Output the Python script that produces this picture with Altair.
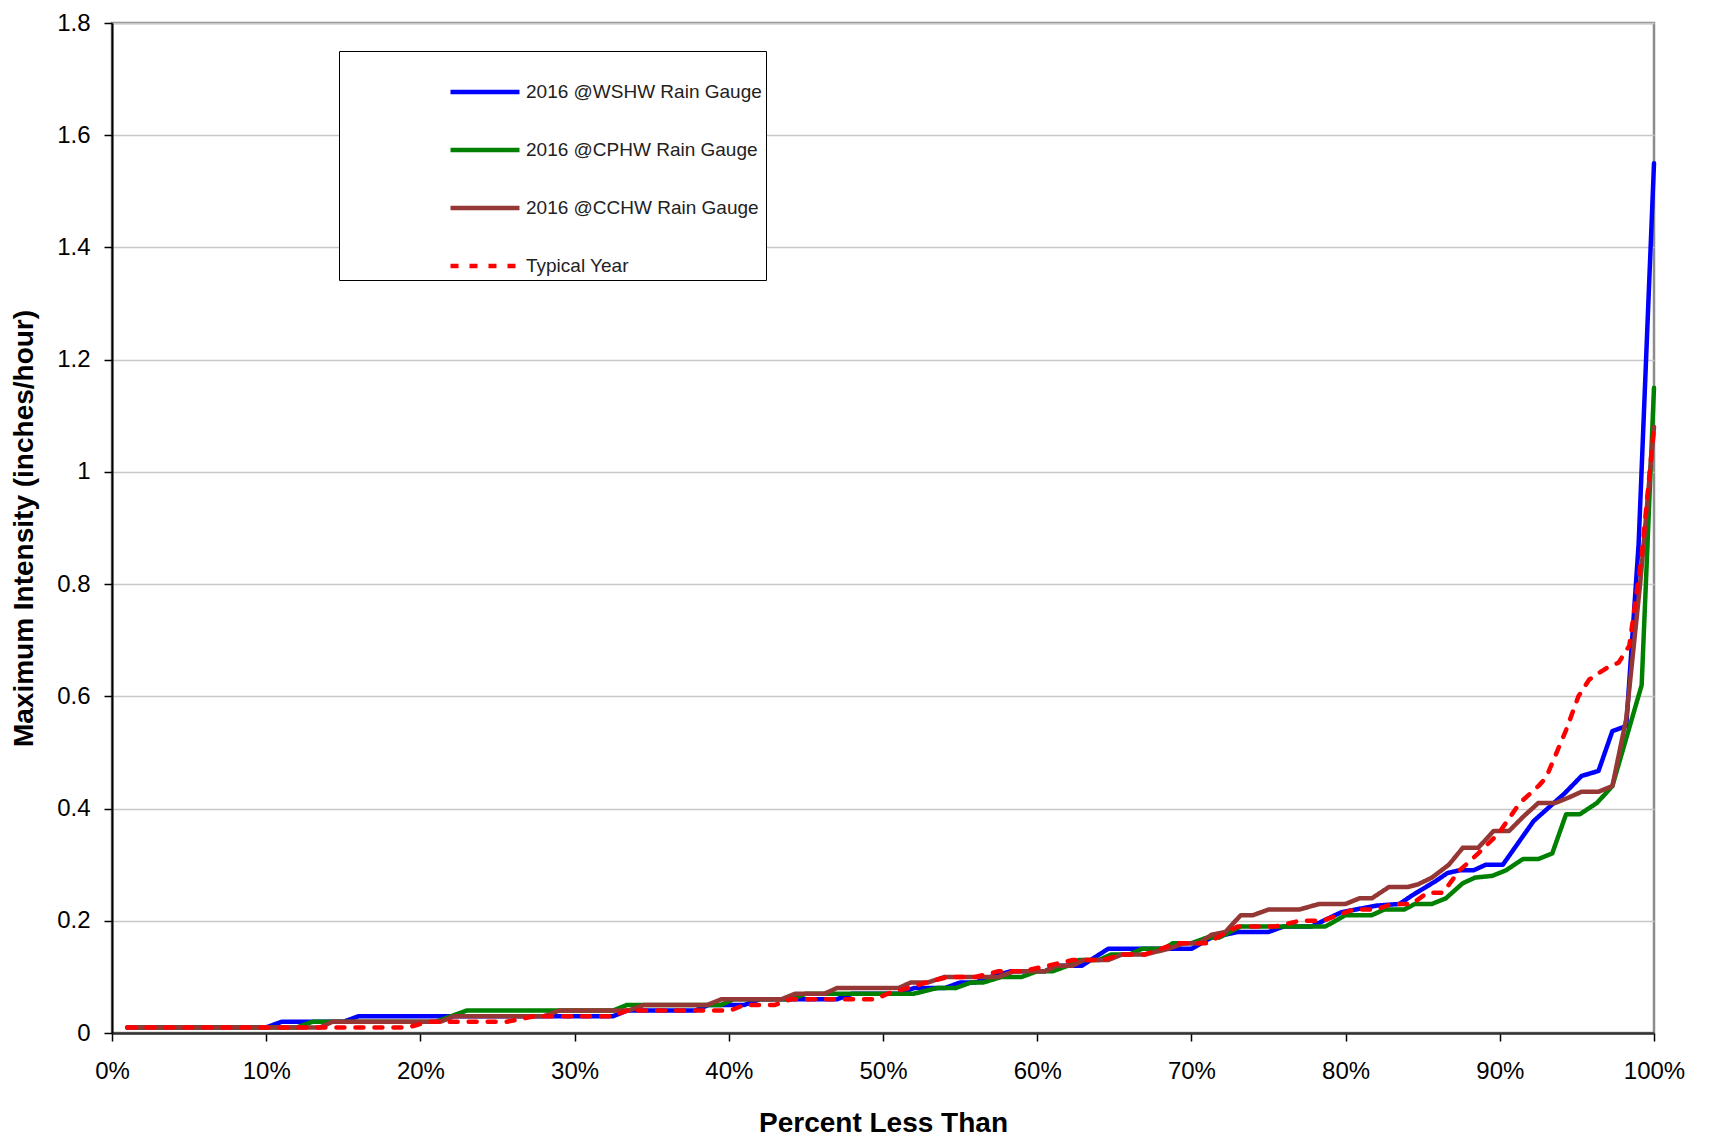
import altair as alt
import pandas as pd

series_names = ["2016 @WSHW Rain Gauge", "2016 @CPHW Rain Gauge",
                "2016 @CCHW Rain Gauge", "Typical Year"]
series_colors = ["#0000FF", "#008000", "#953735", "#FF0000"]
series_dash = [[1, 0], [1, 0], [1, 0], [8, 11]]

x_ticks = [0, 10, 20, 30, 40, 50, 60, 70, 80, 90, 100]
y_ticks = [0, 0.2, 0.4, 0.6, 0.8, 1.0, 1.2, 1.4, 1.6, 1.8]

wshw_pct = [1, 10, 11, 15, 16, 32.5, 33.4, 37.8, 38.7, 41, 42, 47, 48, 51, 52,
            54, 55, 56, 57, 58.3, 60.5, 61.2, 62.9, 64.6, 70, 71.3, 73, 75, 76, 77.8,
            79.7, 82, 83.5, 84.3, 85.8, 86.6, 87.4, 88.3, 89.1, 90.2, 92.2, 93.1, 94.2,
            95.3, 96.4, 97.3, 98.2, 99, 100]
wshw_val = [0.01, 0.01, 0.02, 0.02, 0.03, 0.03, 0.04, 0.04, 0.05, 0.05, 0.06, 0.06,
            0.07, 0.07, 0.08, 0.08, 0.09, 0.09, 0.10, 0.11, 0.11, 0.12, 0.12, 0.15,
            0.15, 0.17, 0.18, 0.18, 0.19, 0.19, 0.215, 0.227, 0.23, 0.245, 0.27, 0.285,
            0.29, 0.29, 0.30, 0.30, 0.378, 0.40, 0.427, 0.458, 0.467, 0.538, 0.547,
            0.87, 1.55]

cphw_pct = [1, 12, 13, 21, 22, 23, 32.5, 33.4, 39.5, 40.3, 44, 45, 52, 53.5, 54.7,
            55.7, 56.5, 57.7, 59, 60, 61, 62, 62.7, 64, 64.8, 66, 66.8, 68.2, 68.8, 70,
            71, 71.8, 73.2, 78.7, 80, 81.7, 82.5, 83.8, 84.5, 85.6, 86.5, 87.6, 88.4,
            89.5, 90.4, 91.5, 92.5, 93.4, 94.3, 95.2, 96.3, 97.3, 99.2, 100]
cphw_val = [0.01, 0.01, 0.02, 0.02, 0.03, 0.04, 0.04, 0.05, 0.05, 0.06, 0.06, 0.07,
            0.07, 0.08, 0.08, 0.09, 0.09, 0.10, 0.10, 0.11, 0.11, 0.12, 0.13, 0.13,
            0.14, 0.14, 0.15, 0.15, 0.16, 0.16, 0.17, 0.17, 0.19, 0.19, 0.21, 0.21,
            0.22, 0.22, 0.23, 0.23, 0.24, 0.267, 0.277, 0.28, 0.29, 0.31, 0.31, 0.32,
            0.39, 0.39, 0.41, 0.44, 0.62, 1.15]

cchw_pct = [1, 13.5, 14.3, 21.3, 22.2, 28, 29, 33.5, 34.5, 38.6, 39.5, 43.4, 44.3,
            46.2, 47, 51, 51.8, 52.9, 54, 57.5, 58.5, 60.5, 61.3, 62.3, 63, 64.6, 65.5,
            67, 68.5, 69.5, 70.5, 71.3, 72.2, 73.2, 74, 75, 77, 78.3, 80, 80.9, 81.7,
            82.8, 84, 84.7, 85.6, 86.7, 87.6, 88.6, 89.6, 90.6, 91.5, 92.5, 93.6, 94.5,
            95.3, 96.4, 97.3, 98.2, 99.1, 100]
cchw_val = [0.01, 0.01, 0.02, 0.02, 0.03, 0.03, 0.04, 0.04, 0.05, 0.05, 0.06, 0.06,
            0.07, 0.07, 0.08, 0.08, 0.09, 0.09, 0.10, 0.10, 0.11, 0.11, 0.12, 0.12,
            0.13, 0.13, 0.14, 0.14, 0.15, 0.16, 0.16, 0.175, 0.18, 0.21, 0.21, 0.22,
            0.22, 0.23, 0.23, 0.24, 0.24, 0.26, 0.26, 0.265, 0.277, 0.30, 0.33, 0.33,
            0.36, 0.36, 0.385, 0.41, 0.41, 0.42, 0.43, 0.43, 0.44, 0.56, 0.80, 1.08]

typical_pct = [1, 19.2, 20.5, 25.6, 27.4, 32.4, 33.4, 40.1, 41, 43, 44, 49.5, 50.3,
               51.6, 52.8, 54.2, 56, 57.5, 59, 60.7, 62.3, 64.2, 65.5, 67, 68.5, 69.2,
               71, 73, 75.5, 77, 78.5, 80.5, 82, 83, 84.3, 85.3, 86.3, 87.4, 88.6, 89.9,
               91.3, 92.5, 93, 94.3, 95.1, 95.8, 96.9, 97.7, 98.4, 99.2, 100]
typical_val = [0.01, 0.01, 0.02, 0.02, 0.03, 0.03, 0.04, 0.04, 0.05, 0.05, 0.06, 0.06,
               0.07, 0.08, 0.09, 0.10, 0.10, 0.11, 0.11, 0.12, 0.13, 0.13, 0.14, 0.14,
               0.155, 0.16, 0.16, 0.19, 0.19, 0.20, 0.20, 0.22, 0.22, 0.23, 0.23, 0.25,
               0.25, 0.29, 0.32, 0.355, 0.41, 0.44, 0.455, 0.54, 0.60, 0.63, 0.65, 0.66,
               0.69, 0.85, 1.08]

rows = []
for name, pcts, vals in zip(series_names,
                            [wshw_pct, cphw_pct, cchw_pct, typical_pct],
                            [wshw_val, cphw_val, cchw_val, typical_val], strict=True):
    for i, (p, v) in enumerate(zip(pcts, vals, strict=True)):
        rows.append({"series": name, "pct": p, "value": v, "i": i})
df = pd.DataFrame(rows)

FONT = "Liberation Sans"

legend = alt.Legend(
    title=None, orient="none", legendX=227, legendY=28,
    strokeColor="#000000", fillColor="#FFFFFF", padding=4,
    symbolType="stroke", symbolSize=4761, symbolStrokeWidth=4.5, symbolOffset=105,
    labelFont=FONT, labelFontSize=19, labelColor="#222222", labelOffset=4,
    rowPadding=11, labelLimit=400,
)

x_enc = alt.X("pct:Q",
              scale=alt.Scale(domain=[0, 100], nice=False, zero=True),
              axis=alt.Axis(values=x_ticks, labelExpr="datum.value + '%'",
                            title="Percent Less Than", grid=False, labelFlush=False,
                            tickSize=8, tickColor="#000000", tickWidth=1.5,
                            labelPadding=18, titlePadding=26,
                            labelFont=FONT, labelFontSize=24, labelColor="#000000",
                            titleFont=FONT, titleFontSize=28, titleFontWeight="bold",
                            titleColor="#000000",
                            domainColor="#333333", domainWidth=2.5))
y_enc = alt.Y("value:Q",
              scale=alt.Scale(domain=[0, 1.8], nice=False),
              axis=alt.Axis(values=y_ticks, format=".1~f",
                            title="Maximum Intensity (inches/hour)", grid=True,
                            gridColor="#c8c8c8", gridWidth=1.5,
                            tickSize=8, tickColor="#000000", tickWidth=1.5,
                            labelPadding=14, titlePadding=18,
                            labelFont=FONT, labelFontSize=24, labelColor="#000000",
                            titleFont=FONT, titleFontSize=28, titleFontWeight="bold",
                            titleColor="#000000",
                            domainColor="#000000", domainWidth=2))
color_enc = alt.Color("series:N", scale=alt.Scale(domain=series_names, range=series_colors),
                      legend=legend)
dash_enc = alt.StrokeDash("series:N", scale=alt.Scale(domain=series_names, range=series_dash),
                          legend=legend)

layers = []
for name in series_names:
    layers.append(
        alt.Chart(df).transform_filter(alt.datum.series == name)
        .mark_line(strokeWidth=4.5, strokeJoin="round", strokeCap="round")
        .encode(x=x_enc, y=y_enc, color=color_enc, strokeDash=dash_enc,
                order=alt.Order("i:Q"))
    )

chart = alt.layer(*layers).properties(
    width=1542, height=1010,
    padding={"left": 2, "top": 3, "right": 5, "bottom": 0},
).configure(
    background="#FFFFFF"
).configure_view(
    stroke="#8c8c8c", strokeWidth=2.5
)

chart.save("out.html", embed_options={"renderer": "svg", "actions": False})
